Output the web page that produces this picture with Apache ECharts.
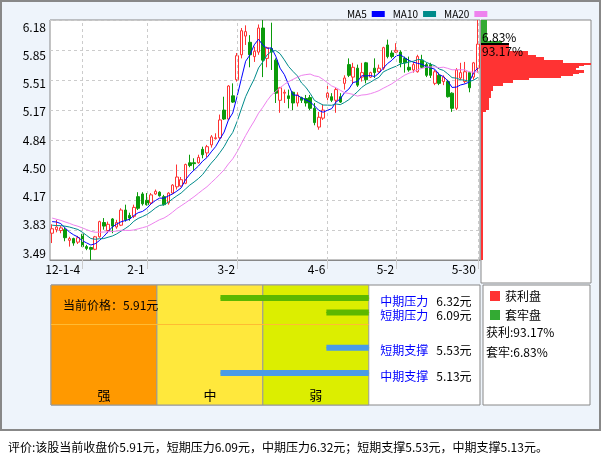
<!DOCTYPE html>
<html>

<head>
    <meta charset="utf-8">
    <script src="https://cdn.jsdelivr.net/npm/echarts/dist/echarts.min.js"></script>
</head>

<body style="margin:0; background:#fff">
    <div style="position:relative; width:601px; height:456px;">
        <div style="position:absolute; left:0; top:0; width:597px; height:427px; background:#eef4fb; border:2px solid #888;"></div>
        <div id="main" style="position:absolute; left:0; top:0; width:601px; height:456px;"></div>
    </div>

<script type="text/javascript">
    // trading days shown on the K line chart
    var days = [
        '11-12-22', '11-12-23', '11-12-26', '11-12-27', '11-12-28', '11-12-29', '11-12-30',
        '12-1-4', '12-1-5', '12-1-6', '12-1-9', '12-1-10', '12-1-11', '12-1-12', '12-1-13', '12-1-16', '12-1-17',
        '12-1-18', '12-1-19', '12-1-20', '12-1-30', '12-1-31',
        '12-2-1', '12-2-2', '12-2-3', '12-2-6', '12-2-7', '12-2-8', '12-2-9', '12-2-10', '12-2-13', '12-2-14',
        '12-2-15', '12-2-16', '12-2-17', '12-2-20', '12-2-21', '12-2-22', '12-2-23', '12-2-24', '12-2-27', '12-2-28', '12-2-29',
        '12-3-2', '12-3-5', '12-3-6', '12-3-7', '12-3-8', '12-3-9', '12-3-12', '12-3-13', '12-3-14', '12-3-15', '12-3-16',
        '12-3-19', '12-3-20', '12-3-21', '12-3-22', '12-3-23', '12-3-26', '12-3-27', '12-3-28', '12-3-29', '12-3-30',
        '12-4-6', '12-4-9', '12-4-10', '12-4-11', '12-4-12', '12-4-13', '12-4-16', '12-4-17', '12-4-18', '12-4-19',
        '12-4-20', '12-4-23', '12-4-24', '12-4-25', '12-4-26', '12-4-27',
        '12-5-2', '12-5-4', '12-5-7', '12-5-8', '12-5-9', '12-5-10', '12-5-11', '12-5-14', '12-5-15', '12-5-16',
        '12-5-17', '12-5-18', '12-5-21', '12-5-22', '12-5-23', '12-5-24', '12-5-25', '12-5-28', '12-5-29', '12-5-30'
    ];
    var xTickDays = ['12-1-4', '12-2-1', '12-3-2', '12-4-6', '12-5-2', '12-5-30'];

    var openP = [
        3.79, 3.83, 3.82, 3.83, 3.71, 3.73, 3.69, 3.78, 3.64, 3.63,
        3.61, 3.75, 3.91, 3.82, 3.95, 3.86, 3.88, 4.05, 3.99, 3.98,
        4.20, 4.23, 4.16, 4.13, 4.23, 4.25, 4.20, 4.13, 4.24, 4.31,
        4.32, 4.35, 4.58, 4.58, 4.58, 4.73, 4.69, 4.78, 4.85, 4.86,
        5.17, 5.07, 5.33, 5.51, 5.79, 6.00, 5.93, 5.77, 5.82, 6.09,
        5.75, 5.86, 5.73, 5.28, 5.36, 5.33, 5.37, 5.25, 5.31, 5.30,
        5.31, 5.19, 4.98, 5.08, 5.31, 5.32, 5.28, 5.32, 5.47, 5.68,
        5.54, 5.64, 5.54, 5.70, 5.54, 5.64, 5.60, 5.64, 5.90, 5.81,
        5.82, 5.82, 5.75, 5.65, 5.62, 5.60, 5.73, 5.68, 5.68, 5.47,
        5.56, 5.49, 5.49, 5.36, 5.19, 5.53, 5.49, 5.59, 5.54, 5.64
    ];
    var closeP = [
        3.84, 3.86, 3.85, 3.74, 3.73, 3.68, 3.74, 3.64, 3.62, 3.61,
        3.75, 3.92, 3.87, 3.89, 3.87, 3.91, 4.05, 3.94, 3.96, 4.08,
        4.07, 4.12, 4.11, 4.22, 4.26, 4.21, 4.11, 4.24, 4.33, 4.42,
        4.39, 4.56, 4.55, 4.57, 4.64, 4.67, 4.76, 4.87, 4.86, 5.06,
        5.07, 5.44, 5.26, 5.78, 6.06, 6.05, 5.79, 5.83, 6.09, 5.73,
        5.87, 5.82, 5.36, 5.42, 5.37, 5.30, 5.25, 5.34, 5.28, 5.25,
        5.19, 5.03, 5.09, 5.17, 5.36, 5.28, 5.40, 5.26, 5.53, 5.56,
        5.65, 5.45, 5.59, 5.51, 5.59, 5.59, 5.64, 5.87, 5.77, 5.77,
        5.84, 5.70, 5.70, 5.62, 5.68, 5.77, 5.65, 5.56, 5.56, 5.60,
        5.47, 5.54, 5.32, 5.19, 5.62, 5.59, 5.60, 5.42, 5.70, 5.91
    ];
    var lowP = [
        3.68, 3.80, 3.79, 3.70, 3.64, 3.65, 3.67, 3.63, 3.60, 3.49,
        3.60, 3.74, 3.83, 3.79, 3.79, 3.84, 3.87, 3.92, 3.93, 3.96,
        4.05, 4.10, 4.10, 4.11, 4.22, 4.20, 4.10, 4.11, 4.23, 4.28,
        4.31, 4.34, 4.53, 4.50, 4.57, 4.63, 4.64, 4.75, 4.84, 4.84,
        5.06, 5.06, 5.25, 5.49, 5.75, 5.90, 5.65, 5.71, 5.79, 5.54,
        5.65, 5.62, 5.25, 5.14, 5.25, 5.19, 5.17, 5.21, 5.25, 5.21,
        5.17, 5.00, 4.95, 5.06, 5.28, 5.26, 5.14, 5.25, 5.40, 5.54,
        5.47, 5.43, 5.49, 5.47, 5.53, 5.53, 5.59, 5.62, 5.75, 5.75,
        5.81, 5.65, 5.59, 5.60, 5.59, 5.59, 5.64, 5.54, 5.53, 5.45,
        5.45, 5.45, 5.31, 5.15, 5.17, 5.51, 5.47, 5.37, 5.51, 5.59
    ];
    var highP = [
        3.89, 3.94, 3.87, 3.85, 3.75, 3.74, 3.76, 3.79, 3.66, 3.64,
        3.76, 3.93, 3.96, 3.92, 3.96, 3.94, 4.07, 4.11, 4.02, 4.11,
        4.25, 4.25, 4.24, 4.24, 4.28, 4.26, 4.22, 4.25, 4.34, 4.56,
        4.42, 4.57, 4.67, 4.63, 4.67, 4.76, 4.78, 4.89, 4.91, 5.12,
        5.32, 5.45, 5.47, 5.81, 6.09, 6.12, 6.01, 5.88, 6.13, 6.18,
        5.88, 6.15, 5.75, 5.43, 5.40, 5.40, 5.38, 5.37, 5.32, 5.34,
        5.34, 5.25, 5.15, 5.23, 5.45, 5.36, 5.42, 5.36, 5.56, 5.75,
        5.70, 5.68, 5.70, 5.71, 5.60, 5.75, 5.68, 5.88, 5.96, 5.84,
        5.92, 5.84, 5.77, 5.77, 5.71, 5.79, 5.79, 5.70, 5.70, 5.62,
        5.59, 5.56, 5.51, 5.37, 5.64, 5.70, 5.71, 5.60, 5.71, 6.18
    ];
    // closes before the first visible day, needed by the moving averages
    var priorCloses = [4.12, 4.10, 4.08, 4.06, 4.05, 4.03, 4.00, 3.99, 4.00, 3.97,
        3.90, 3.86, 3.80, 3.82, 3.82, 3.88, 3.94, 3.98, 3.96];

    var yTickValues = [3.49, 3.82625, 4.1625, 4.49875, 4.835, 5.17125, 5.5075, 5.84375, 6.18];
    var yTickLabels = ['3.49', '3.83', '4.17', '4.50', '4.84', '5.17', '5.51', '5.85', '6.18'];

    // chip distribution: price band low, high, amount
    var chipLow = [5.94, 5.91, 5.83, 5.79, 5.76, 5.73, 5.70, 5.68, 5.66, 5.64, 5.62, 5.59, 5.57, 5.55, 5.53,
        5.51, 5.47, 5.44, 5.38, 5.31, 5.17, 5.15, 3.49];
    var chipHigh = [6.18, 5.94, 5.91, 5.83, 5.79, 5.76, 5.73, 5.70, 5.68, 5.66, 5.64, 5.62, 5.59, 5.57, 5.55,
        5.53, 5.51, 5.47, 5.44, 5.38, 5.31, 5.17, 5.15];
    var chipAmt = [6, 21, 28, 47, 55, 63, 82, 110, 103, 98, 95, 103, 98, 92, 80,
        48, 32, 22, 12, 10, 8, 5, 1.5];
    var profitPct = '93.17';
    var trappedPct = '6.83';
    var closeNow = 5.91;

    // support / pressure levels
    var levelNames = ['中期压力', '短期压力', '短期支撑', '中期支撑'];
    var levelPrices = [6.32, 6.09, 5.53, 5.13];
    var levelStart = [1.6, 2.6, 2.6, 1.6];
    var zoneNames = ['强', '中', '弱'];

    var font = '"Noto Sans CJK SC", sans-serif';

    var kData = openP.map(function (o, i) {
        return [o, closeP[i], lowP[i], highP[i]];
    });

    function calcMA(n) {
        var all = priorCloses.concat(closeP);
        return closeP.map(function (c, i) {
            var j = i + priorCloses.length;
            var s = 0;
            for (var k = j - n + 1; k <= j; k++) s += all[k];
            return +(s / n).toFixed(3);
        });
    }

    var yRich = {};
    yTickLabels.forEach(function (t, k) {
        var off = (k - 4) * 7 / 4;
        yRich['l' + k] = {
            fontSize: 12, color: '#000', fontFamily: font,
            padding: off > 0 ? [off * 2, 0, 0, 0] : [0, 0, -off * 2, 0]
        };
    });

    var chipRed = [], chipGreen = [];
    chipLow.forEach(function (lo, i) {
        var row = [lo, chipHigh[i], chipAmt[i]];
        if (lo >= closeNow) chipGreen.push(row); else chipRed.push(row);
    });

    // snap to whole pixels so neighbouring bands join without seams
    function chipRender(params, api) {
        var a = api.coord([0, api.value(1)]);
        var b = api.coord([api.value(2), api.value(0)]);
        var x0 = Math.round(a[0]), y0 = Math.round(a[1]), y1 = Math.round(b[1]);
        return {
            type: 'rect',
            shape: { x: x0, y: y0, width: Math.max(1, Math.round(b[0] - a[0])), height: Math.max(1, y1 - y0) },
            style: { fill: api.visual('color') }
        };
    }

    var levelSeries = levelNames.map(function (n, i) {
        var col = n.indexOf('压力') >= 0 ? '#5cb800' : '#4a9be8';
        return {
            name: n, type: 'line', xAxisIndex: 1, yAxisIndex: 1, z: 3,
            symbol: 'circle', symbolSize: 1, itemStyle: { color: col },
            lineStyle: { width: 6, color: col },
            data: [
                [levelStart[i], levelPrices[i]],
                {
                    value: [3, levelPrices[i]],
                    label: {
                        show: true, position: 'right', distance: 11, offset: [0, 3],
                        formatter: '{n|' + n + '}{v|' + levelPrices[i].toFixed(2) + '元}',
                        rich: {
                            n: { color: '#0000ff', fontSize: 12, fontFamily: font },
                            v: { color: '#000', fontSize: 12, fontFamily: font, padding: [0, 0, 0, 8] }
                        }
                    }
                }
            ]
        };
    });

    var zoneColors = ['#ff9900', '#ffe83c', '#dcee00'];

    option = {
        animation: false,
        textStyle: { fontFamily: font },
        legend: [{
            data: ['MA5', 'MA10', 'MA20'],
            left: 342, top: 4, align: 'right', icon: 'rect',
            itemWidth: 13, itemHeight: 6, itemGap: 8, selectedMode: false,
            textStyle: { fontSize: 10, color: '#000', fontFamily: font }
        }, {
            data: ['获利盘', '套牢盘'],
            orient: 'vertical', left: 485, top: 285, icon: 'rect',
            itemWidth: 10, itemHeight: 10, itemGap: 7, selectedMode: false, z: 5,
            textStyle: { fontSize: 12, color: '#000', fontFamily: font }
        }],
        grid: [
            { left: 50, top: 20, width: 430, height: 240, show: true, backgroundColor: '#fff', borderColor: '#888', borderWidth: 1, outerBoundsMode: 'none' },
            { left: 51, top: 285, width: 429, height: 120, show: true, backgroundColor: '#fff', borderColor: '#888', borderWidth: 1, outerBoundsMode: 'none' },
            { left: 481, top: 20, width: 110, height: 263, show: true, backgroundColor: '#fff', borderColor: '#888', borderWidth: 1, outerBoundsMode: 'none' }
        ],
        xAxis: [{
            type: 'category', gridIndex: 0, data: days, boundaryGap: true,
            axisLine: { lineStyle: { color: '#888' } },
            axisTick: {
                show: true, alignWithLabel: true, length: 9,
                interval: function (i, v) { return xTickDays.indexOf(v) >= 0; },
                lineStyle: { color: '#ccc' }
            },
            axisLabel: {
                interval: function (i, v) { return xTickDays.indexOf(v) >= 0; },
                formatter: function (v) { return v === xTickDays[0] ? v : v.slice(3); },
                align: 'right', margin: 3, padding: [0, 2, 0, 0],
                fontSize: 12, color: '#000', fontFamily: font
            },
            splitLine: { show: false }
        }, {
            type: 'value', gridIndex: 1, min: 0, max: 4.05, show: false
        }, {
            type: 'value', gridIndex: 2, min: 0, max: 110, show: false
        }],
        yAxis: [{
            type: 'value', gridIndex: 0, min: 3.49, max: 6.18, scale: true,
            axisLine: { show: false },
            axisTick: { show: false, customValues: yTickValues },
            axisLabel: {
                customValues: yTickValues, margin: 4,
                formatter: function (v) {
                    var k = 0;
                    yTickValues.forEach(function (t, j) { if (Math.abs(t - v) < 1e-4) k = j; });
                    return '{l' + k + '|' + yTickLabels[k] + '}';
                },
                rich: yRich
            },
            splitLine: { show: true, lineStyle: { color: '#ccc', type: [3, 3] } }
        }, {
            type: 'value', gridIndex: 1, min: 4.6223, max: 6.5263, show: false
        }, {
            type: 'value', gridIndex: 2, min: 3.2322, max: 6.18, show: false
        }],
        graphic: [{
            type: 'rect', z: 0,
            shape: { x: 483, y: 285, width: 107, height: 120 },
            style: { fill: '#fff', stroke: '#888', lineWidth: 1 }
        }, {
            type: 'text', z: 1, x: 486, y: 332,
            style: { text: '获利:' + profitPct + '%', font: '12px ' + font, fill: '#000', verticalAlign: 'middle' }
        }, {
            type: 'text', z: 1, x: 486, y: 352,
            style: { text: '套牢:' + trappedPct + '%', font: '12px ' + font, fill: '#000', verticalAlign: 'middle' }
        }, {
            type: 'text', z: 1, x: 8, y: 447,
            style: {
                text: '评价:该股当前收盘价' + closeNow.toFixed(2) + '元，短期压力' + levelPrices[1].toFixed(2) +
                    '元，中期压力' + levelPrices[0].toFixed(2) + '元；短期支撑' + levelPrices[2].toFixed(2) +
                    '元，中期支撑' + levelPrices[3].toFixed(2) + '元。',
                font: '12px ' + font, fill: '#000', verticalAlign: 'middle'
            }
        }],
        series: [{
            name: 'dateGrid', type: 'line', xAxisIndex: 0, yAxisIndex: 0, z: 1, data: [],
            markLine: {
                silent: true, symbol: 'none',
                lineStyle: { color: '#ccc', type: [3, 3], width: 1 },
                label: { show: false },
                data: xTickDays.map(function (d) { return { xAxis: d }; })
            }
        }, {
            name: 'K', type: 'candlestick', xAxisIndex: 0, yAxisIndex: 0,
            data: kData, barWidth: 3,
            itemStyle: {
                color: '#fff', color0: '#0a9a0a',
                borderColor: '#ff3333', borderColor0: '#0a9a0a', borderWidth: 1
            }
        }, {
            name: 'MA5', type: 'line', xAxisIndex: 0, yAxisIndex: 0, data: calcMA(5),
            symbol: 'none', itemStyle: { color: '#0000ff' }, lineStyle: { width: 1, color: '#0000ff' }
        }, {
            name: 'MA10', type: 'line', xAxisIndex: 0, yAxisIndex: 0, data: calcMA(10),
            symbol: 'none', itemStyle: { color: '#008b8b' }, lineStyle: { width: 1, color: '#008b8b' }
        }, {
            name: 'MA20', type: 'line', xAxisIndex: 0, yAxisIndex: 0, data: calcMA(20),
            symbol: 'none', itemStyle: { color: '#ee82ee' }, lineStyle: { width: 1, color: '#ee82ee' }
        }, {
            name: '获利盘', type: 'custom', xAxisIndex: 2, yAxisIndex: 2,
            itemStyle: { color: '#ff3333' },
            encode: { x: 2, y: [0, 1] },
            renderItem: chipRender, data: chipRed,
            markLine: {
                silent: true, symbol: 'none',
                lineStyle: { color: '#000', width: 2, type: 'solid' },
                label: { fontSize: 12, color: '#000', fontFamily: font },
                data: [
                    [{ coord: [0, closeNow], label: { position: 'insideStartTop', distance: 1, formatter: trappedPct + '%' } }, { coord: [28, closeNow] }],
                    [{ coord: [0, closeNow], label: { position: 'insideStartBottom', distance: 1, formatter: profitPct + '%' } }, { coord: [28, closeNow] }]
                ]
            }
        }, {
            name: '套牢盘', type: 'custom', xAxisIndex: 2, yAxisIndex: 2,
            itemStyle: { color: '#33aa33' },
            encode: { x: 2, y: [0, 1] },
            renderItem: chipRender, data: chipGreen
        }, {
            name: 'zones', type: 'line', xAxisIndex: 1, yAxisIndex: 1, data: [], z: 2,
            markArea: {
                silent: true,
                itemStyle: { borderColor: '#999', borderWidth: 1 },
                label: { position: 'insideBottom', distance: 4, color: '#000', fontSize: 13, fontFamily: font },
                data: zoneNames.map(function (n, i) {
                    return [{ name: n, xAxis: i, itemStyle: { color: zoneColors[i] } }, { xAxis: i + 1 }];
                })
            },
            markLine: {
                silent: true, symbol: 'none',
                lineStyle: { color: '#ffbb33', width: 1, type: 'solid' },
                label: {
                    position: 'insideStartTop', distance: 12, color: '#000', fontSize: 12, fontFamily: font,
                    formatter: '当前价格：' + closeNow.toFixed(2) + '元'
                },
                data: [[{ coord: [0, closeNow] }, { coord: [3, closeNow] }]]
            }
        }].concat(levelSeries)
    };

    var chart = echarts.init(document.getElementById('main'));
    chart.setOption(option);
</script>

</html>
